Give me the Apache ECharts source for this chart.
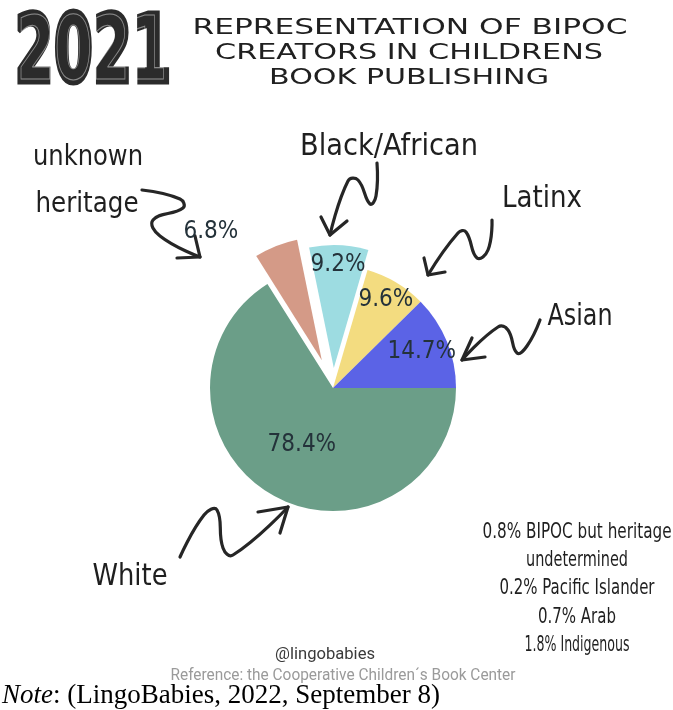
<!DOCTYPE html>
<html>
<head>
<meta charset="utf-8">
<script src="https://cdn.jsdelivr.net/npm/echarts@6/dist/echarts.min.js"></script>
<style>
html,body{margin:0;padding:0;background:#fff;}
#chart{width:673px;height:710px;}
</style>
</head>
<body>
<div id="chart"></div>
<script>
// ---- data ----
const categories = ['White', 'unknown heritage', 'Black/African', 'Latinx', 'Asian'];
const shares = [78.4, 6.8, 9.2, 9.6, 14.7];
const sliceColors = ['#6b9e88', '#d49a87', '#9ddce1', '#f3dc80', '#5b63e6'];
const noteValues = [0.8, 0.2, 0.7, 1.8];
const noteNames = ['BIPOC but heritage|undetermined', 'Pacific Islander', 'Arab', 'Indigenous'];
const titleYear = '2021';
const titleLines = ['REPRESENTATION OF BIPOC', 'CREATORS IN CHILDRENS', 'BOOK PUBLISHING'];

const HAND = "'Liberation Sans Narrow','DejaVu Sans Condensed','DejaVu Sans',sans-serif";
const ctx = document.createElement('canvas').getContext('2d');
function fit(text, font, w){ ctx.font = font; return w / ctx.measureText(text).width; }
function txt(text, x, y, size, w, opts){
  opts = opts || {};
  const font = (opts.weight || 'normal') + ' ' + size + 'px ' + (opts.family || HAND);
  return {type:'text', x:x, y:y, scaleX: w ? fit(text, font, w) : 1, silent:true,
    style:{text:text, font:font, fill: opts.fill || '#1f1f1f', align: opts.align || 'center', verticalAlign:'middle'}};
}
function arrow(points, head){
  const st = {fill:null, stroke:'#262626', lineWidth:3.2, lineCap:'round', lineJoin:'round'};
  return [{type:'polyline', silent:true, shape:{points:points, smooth:0.45}, style:st},
          {type:'polyline', silent:true, shape:{points:head}, style:st}];
}

const chart = echarts.init(document.getElementById('chart'), null, {renderer:'canvas'});

const labelStyle = {show:true, position:'inside', formatter: p => p.value + '%', fontSize:24,
  fontFamily: HAND, color:'#24323a'};

// fillSet: slices painted by this series; labelSet: labels shown by this series
function pieSeries(fillSet, labelSet, radius, offset, selectedName, labelOverride){
  return {
    type:'pie', center:[333,388], radius:radius, startAngle:0, clockwise:true,
    silent:true, animation:false, avoidLabelOverlap:false,
    selectedMode:'multiple', selectedOffset:offset,
    label: labelStyle, labelLine:{show:false},
    labelLayout:{hideOverlap:false},
    emphasis:{disabled:true},
    data: categories.map((n,i) => {
      const vis = fillSet.indexOf(n) >= 0;
      const lab = labelSet.indexOf(n) >= 0;
      return {name:n, value:shares[i], selected: n === selectedName,
        itemStyle:{color: vis ? sliceColors[i] : 'rgba(0,0,0,0)'},
        label: Object.assign({show: lab}, (lab && labelOverride && labelOverride[n]) || {})};
    })
  };
}

const notes = [];
const noteWidths = [189, 102, 155, 78, 105];
let ny = 532, k = 0;
noteNames.forEach((nm, i) => {
  nm.split('|').forEach((p, j) => {
    notes.push(txt((j === 0 ? noteValues[i] + '% ' : '') + p, 577, ny, 22, noteWidths[k++]));
    ny += 28.3;
  });
});

const graphics = [
  {type:'text', x:93, y:58, scaleX:0.6, silent:true,
   style:{text:titleYear, font:"bold 94px 'DejaVu Sans'", fill:'#2b2b2b', stroke:'#2b2b2b', lineWidth:5, align:'center', verticalAlign:'middle'}},
  {type:'text', x:92, y:57, scaleX:0.575, scaleY:0.92, silent:true,
   style:{text:titleYear, font:"bold 94px 'DejaVu Sans'", fill:null, stroke:'rgba(255,255,255,0.45)', lineWidth:1.2, align:'center', verticalAlign:'middle'}},
  txt(titleLines[0], 410, 28, 22, 435, {family:"'DejaVu Sans',sans-serif", fill:'#202020'}),
  txt(titleLines[1], 409, 53, 22, 388, {family:"'DejaVu Sans',sans-serif", fill:'#202020'}),
  txt(titleLines[2], 409, 78, 22, 280, {family:"'DejaVu Sans',sans-serif", fill:'#202020'}),
  txt('unknown', 88, 158, 28, 110),
  txt('heritage', 87, 205, 28, 103),
  txt(categories[2], 389, 147, 30, 178),
  txt(categories[3], 542, 199, 30, 80),
  txt(categories[4], 580, 317, 30, 65),
  txt(categories[0], 130, 577, 30, 75),
  ...arrow([[142,190],[180,199],[183,208],[153,220],[160,236],[200,257]], [[177,258],[200,257],[195,236]]),
  ...arrow([[377,163],[376,196],[370,204],[358,180],[348,181],[330,235]], [[321,217],[330,235],[347,221]]),
  ...arrow([[492,220],[488,250],[477,258],[466,232],[458,233],[428,275]], [[424,258],[428,275],[445,272]]),
  ...arrow([[540,320],[527,346],[517,353],[508,330],[498,327],[462,360]], [[472,338],[462,360],[485,357]]),
  ...arrow([[180,557],[204,515],[217,510],[223,548],[233,555],[288,507]], [[258,512],[288,507],[280,533]]),
  ...notes,
  txt('@lingobabies', 325, 655, 16, 100, {family:"Roboto,'Noto Sans',sans-serif", fill:'#3a3a3a'}),
  txt('Reference: the Cooperative Children\u00b4s Book Center', 343, 676, 16, 345, {family:"Roboto,'Noto Sans',sans-serif", fill:'#9a9a9a'}),
  {type:'text', x:2, y:696, silent:true,
   style:{text:'{i|Note}: (LingoBabies, 2022, September 8)', font:"27px 'Liberation Serif'", fill:'#000', align:'left', verticalAlign:'middle',
     rich:{i:{fontStyle:'italic', fontFamily:'Liberation Serif', fontSize:27, fill:'#000'}}}}
];

chart.setOption({
  animation:false,
  backgroundColor:'#ffffff',
  series:[
    pieSeries(['White','Black/African','Latinx','Asian'], ['White'], 123, 20, 'Black/African'),
    pieSeries(['unknown heritage'], ['unknown heritage'], 123, 30, 'unknown heritage',
      {'unknown heritage': {position:'outside', distanceToLabelLine:2}}),
    pieSeries([], ['Black/African','Latinx'], [70,130], 20, 'Black/African'),
    pieSeries([], ['Asian'], [56,130], 0, null)
  ],
  graphic: graphics
});
</script>
</body>
</html>
